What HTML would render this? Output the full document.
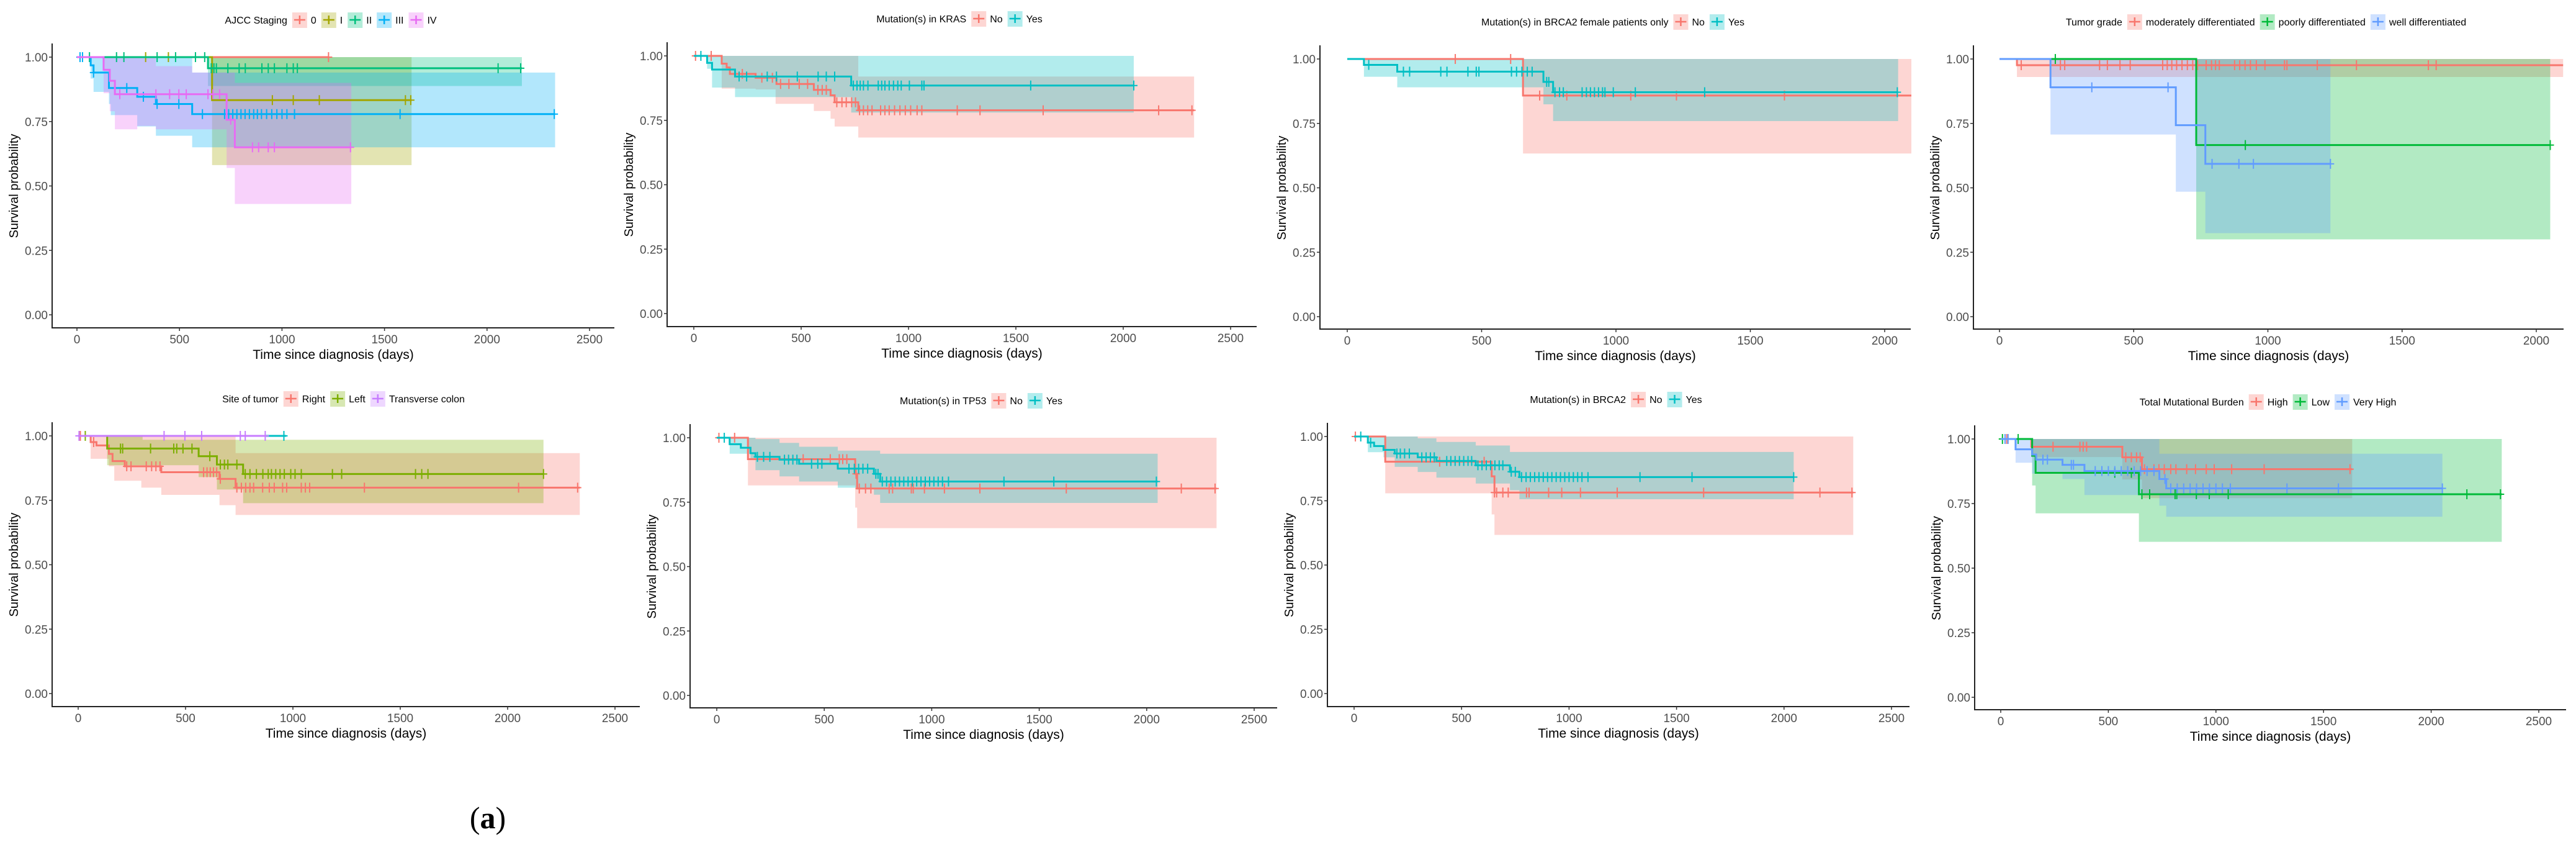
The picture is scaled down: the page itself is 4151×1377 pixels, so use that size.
<!DOCTYPE html>
<html><head><meta charset="utf-8">
<style>
html,body{margin:0;padding:0;background:#fff;}
svg text{font-family:"Liberation Sans Narrow","Liberation Sans",sans-serif;}
</style></head>
<body>
<svg id="root" width="4151" height="1372" viewBox="0 0 4151 1372" xmlns="http://www.w3.org/2000/svg">
<rect width="4151" height="1372" fill="#fff"/>
<text x="786" y="1334" text-anchor="middle" font-size="50" style="font-family:'Liberation Serif',serif">(<tspan font-weight="bold">a</tspan>)</text>
</svg>
<script>
// ---------- data ----------
const ajcc0_steps=[[0,1]]; const ajcc0_end=1227; const ajcc0_cens=[1227]; const ajcc0_lo=[[0,1]]; const ajcc0_hi=[[0,1]];
const ajccI_steps=[[0,1],[659,0.833]]; const ajccI_end=1632; const ajccI_cens=[335,446,953,1055,1182,1602,1628]; const ajccI_lo=[[0,1],[659,0.581]]; const ajccI_hi=[[0,1]];
const ajccII_steps=[[0,1],[639,0.957]]; const ajccII_end=2170; const ajccII_cens=[61,193,229,391,481,578,623,655,668,680,736,791,821,902,933,963,1024,1055,1075,2054,2164]; const ajccII_lo=[[0,1],[639,0.888]]; const ajccII_hi=[[0,1]];
const ajccIII_steps=[[0,1],[67,0.968],[81,0.94],[156,0.88],[294,0.846],[385,0.818],[562,0.779]]; const ajccIII_end=2332; const ajccIII_cens=[15,27,81,243,324,391,497,612,720,740,760,780,800,820,841,862,880,900,925,950,975,1000,1024,1061,1576,2328]; const ajccIII_lo=[[0,1],[67,0.917],[81,0.865],[156,0.818],[165,0.775],[294,0.731],[385,0.695],[562,0.65]]; const ajccIII_hi=[[0,1],[562,0.94]];
const ajccIV_steps=[[0,1],[130,0.951],[160,0.908],[185,0.856],[730,0.757],[770,0.65]]; const ajccIV_end=1338; const ajccIV_cens=[209,385,452,497,533,639,663,696,750,856,886,933,963,1334]; const ajccIV_lo=[[0,1],[130,0.86],[160,0.79],[185,0.72],[294,0.733],[385,0.72],[730,0.57],[770,0.43]]; const ajccIV_hi=[[0,1],[385,0.965],[562,0.94],[770,0.9]];

const krasNo_steps=[[0,1],[130,0.97],[153,0.955],[168,0.93],[288,0.915],[385,0.891],[559,0.868],[637,0.847],[656,0.82],[766,0.789]]; const krasNo_end=2330; const krasNo_cens=[8,81,226,317,366,404,443,491,530,578,598,617,666,690,710,735,753,772,790,810,830,870,890,910,935,960,985,1010,1040,1062,1227,1333,1627,2165,2320]; const krasNo_lo=[[0,1],[130,0.873],[288,0.87],[381,0.814],[559,0.786],[637,0.756],[656,0.726],[766,0.683]]; const krasNo_hi=[[0,1],[766,0.92]];
const krasYes_steps=[[0,1],[62,0.973],[85,0.947],[192,0.92],[733,0.885]]; const krasYes_end=2049; const krasYes_cens=[33,211,246,342,385,482,579,617,656,743,760,775,790,811,859,875,890,910,930,950,966,1004,1062,1072,1569,2049]; const krasYes_lo=[[0,1],[62,0.95],[85,0.877],[192,0.84],[733,0.78]]; const krasYes_hi=[[0,1]];

const bfNo_steps=[[0,1],[654,0.858]]; const bfNo_end=2100; const bfNo_cens=[402,608,716,817,1055,1225,1627]; const bfNo_lo=[[0,1],[654,0.633]]; const bfNo_hi=[[0,1]];
const bfYes_steps=[[0,1],[62,0.977],[186,0.951],[730,0.911],[766,0.871]]; const bfYes_end=2050; const bfYes_cens=[80,209,232,348,371,449,480,490,611,630,650,670,688,742,750,773,790,804,874,890,905,920,935,950,959,990,1072,1330,2047]; const bfYes_lo=[[0,1],[62,0.931],[186,0.89],[730,0.824],[766,0.759]]; const bfYes_hi=[[0,1]];

const grMod_steps=[[0,1],[65,0.976]]; const grMod_end=2100; const grMod_cens=[81,227,243,373,402,449,487,608,625,642,660,680,700,720,738,770,790,805,819,876,895,915,935,957,989,1062,1071,1184,1330,1598,1627]; const grMod_lo=[[0,1],[65,0.93]]; const grMod_hi=[[0,1]];
const grPoor_steps=[[0,1],[733,0.666]]; const grPoor_end=2052; const grPoor_cens=[208,916,2052]; const grPoor_lo=[[0,1],[733,0.3]]; const grPoor_hi=[[0,1]];
const grWell_steps=[[0,1],[190,0.89],[657,0.743],[767,0.593]]; const grWell_end=1233; const grWell_cens=[344,628,792,892,946,1233]; const grWell_lo=[[0,1],[190,0.707],[657,0.485],[767,0.324]]; const grWell_hi=[[0,1]];

const stR_steps=[[0,1],[58,0.976],[85,0.963],[143,0.93],[160,0.902],[217,0.882],[387,0.859],[658,0.833],[733,0.799]]; const stR_end=2336; const stR_cens=[10,72,226,246,317,342,362,381,584,600,615,630,645,662,739,760,780,800,817,859,890,913,952,971,1039,1058,1078,1333,2051,2326]; const stR_lo=[[0,1],[58,0.911],[143,0.882],[168,0.826],[294,0.799],[387,0.771],[658,0.731],[733,0.693]]; const stR_hi=[[0,1],[733,0.933]];
const stL_steps=[[0,1],[135,0.951],[561,0.921],[646,0.889],[768,0.852]]; const stL_end=2167; const stL_cens=[33,197,207,337,445,459,488,530,613,662,681,697,739,778,800,830,860,885,900,920,940,960,990,1010,1039,1184,1227,1571,1600,1629,2167]; const stL_lo=[[0,1],[135,0.886],[561,0.84],[646,0.792],[768,0.739]]; const stL_hi=[[0,1],[300,0.985]];
const stX_steps=[[0,1]]; const stX_end=968; const stX_cens=[958]; const stX_lo=[[0,1]]; const stX_hi=[[0,1]];
const stT_steps=[[0,1]]; const stT_end=875; const stT_cens=[4,400,497,575,755,778,871]; const stT_lo=[[0,1]]; const stT_hi=[[0,1]];

const tpNo_steps=[[0,1],[145,0.917],[644,0.86],[653,0.803]]; const tpNo_end=2325; const tpNo_cens=[10,83,402,528,570,586,605,648,663,692,717,802,818,905,914,966,1059,1224,1626,2161,2318]; const tpNo_lo=[[0,1],[145,0.815],[644,0.729],[653,0.649]]; const tpNo_hi=[[0,1]];
const tpYes_steps=[[0,1],[60,0.975],[112,0.961],[157,0.94],[180,0.926],[292,0.915],[383,0.899],[563,0.88],[731,0.86],[760,0.83]]; const tpYes_end=2051; const tpYes_cens=[35,189,218,247,315,334,354,373,441,470,489,615,640,660,680,702,740,750,770,790,810,830,850,870,890,910,930,950,970,990,1010,1030,1050,1078,1336,1568,2045]; const tpYes_lo=[[0,1],[60,0.938],[157,0.915],[180,0.874],[292,0.85],[383,0.83],[563,0.806],[731,0.779],[760,0.747]]; const tpYes_hi=[[0,1],[180,0.995],[292,0.98],[383,0.965],[563,0.95],[760,0.938]];

const b2No_steps=[[0,1],[145,0.902],[640,0.845],[653,0.782]]; const b2No_end=2322; const b2No_cens=[6,398,605,653,663,692,717,802,814,905,966,1053,1224,1626,2167,2316]; const b2No_lo=[[0,1],[145,0.779],[640,0.697],[653,0.617]]; const b2No_hi=[[0,1]];
const b2Yes_steps=[[0,1],[64,0.976],[93,0.963],[137,0.948],[189,0.934],[296,0.919],[383,0.905],[566,0.888],[725,0.863],[769,0.842]]; const b2Yes_end=2045; const b2Yes_cens=[31,77,199,215,235,257,315,335,355,373,431,450,470,490,510,530,547,576,595,615,635,655,675,692,731,750,779,800,820,840,860,880,900,920,940,960,980,1000,1020,1040,1060,1088,1330,1572,2045]; const b2Yes_lo=[[0,1],[64,0.939],[137,0.919],[189,0.882],[296,0.862],[383,0.84],[566,0.817],[725,0.791],[769,0.756]]; const b2Yes_hi=[[0,1],[296,0.993],[383,0.979],[566,0.965],[725,0.94]];

const tmH_steps=[[0,1],[142,0.97],[565,0.929],[656,0.883]]; const tmH_end=1633; const tmH_cens=[28,243,368,383,399,581,607,631,648,668,712,735,760,790,814,864,905,955,992,1073,1224,1623]; const tmH_lo=[[0,1],[142,0.93],[565,0.843],[656,0.771]]; const tmH_hi=[[0,1]];
const tmL_steps=[[0,1],[146,0.935],[162,0.869],[642,0.786]]; const tmL_end=2328; const tmL_cens=[8,81,530,607,656,692,810,818,909,969,1057,2166,2322]; const tmL_lo=[[0,1],[146,0.82],[162,0.712],[642,0.602]]; const tmL_hi=[[0,1]];
const tmV_steps=[[0,1],[69,0.96],[146,0.94],[165,0.92],[287,0.9],[389,0.876],[737,0.845],[769,0.809]]; const tmV_end=2052; const tmV_cens=[20,34,196,217,328,338,439,470,500,530,560,590,620,650,680,712,763,790,820,850,880,910,940,970,1000,1030,1067,1330,1569,2052]; const tmV_lo=[[0,1],[69,0.908],[146,0.866],[287,0.845],[389,0.783],[737,0.742],[769,0.699]]; const tmV_hi=[[0,1],[737,0.943]];

const yTicks=[0,0.25,0.5,0.75,1];
const yTickLabels=["0.00","0.25","0.50","0.75","1.00"];
const xTicks2500=[0,500,1000,1500,2000,2500];
const xTicks2000=[0,500,1000,1500,2000];

// ---------- layout ----------
const C2=["#F8766D","#00BFC4"], C3=["#F8766D","#00BA38","#619CFF"];
const panels=[
 {name:"ajcc-staging",title:"AJCC Staging",ax:84,x0:124,xr:2500,xw:826,xe:990,y1:92,y0:507,ay:528,ticks:xTicks2500,
  groups:[["0","#F8766D",ajcc0_steps,ajcc0_end,ajcc0_cens,ajcc0_lo,ajcc0_hi],["I","#A3A500",ajccI_steps,ajccI_end,ajccI_cens,ajccI_lo,ajccI_hi],["II","#00BF7D",ajccII_steps,ajccII_end,ajccII_cens,ajccII_lo,ajccII_hi],["III","#00B0F6",ajccIII_steps,ajccIII_end,ajccIII_cens,ajccIII_lo,ajccIII_hi],["IV","#E76BF3",ajccIV_steps,ajccIV_end,ajccIV_cens,ajccIV_lo,ajccIV_hi]]},
 {name:"kras",title:"Mutation(s) in KRAS",ax:1075,x0:1118,xr:2500,xw:865,xe:2025,y1:90,y0:505,ay:526,ticks:xTicks2500,
  groups:[["No",C2[0],krasNo_steps,krasNo_end,krasNo_cens,krasNo_lo,krasNo_hi],["Yes",C2[1],krasYes_steps,krasYes_end,krasYes_cens,krasYes_lo,krasYes_hi]]},
 {name:"brca2-female",title:"Mutation(s) in BRCA2 female patients only",ax:2127,x0:2171,xr:2000,xw:866,xe:3079,y1:95,y0:510,ay:530,ticks:xTicks2000,
  groups:[["No",C2[0],bfNo_steps,bfNo_end,bfNo_cens,bfNo_lo,bfNo_hi],["Yes",C2[1],bfYes_steps,bfYes_end,bfYes_cens,bfYes_lo,bfYes_hi]]},
 {name:"tumor-grade",title:"Tumor grade",ax:3180,x0:3222,xr:2000,xw:865,xe:4131,y1:95,y0:510,ay:530,ticks:xTicks2000,
  groups:[["moderately differentiated",C3[0],grMod_steps,grMod_end,grMod_cens,grMod_lo,grMod_hi],["poorly differentiated",C3[1],grPoor_steps,grPoor_end,grPoor_cens,grPoor_lo,grPoor_hi],["well differentiated",C3[2],grWell_steps,grWell_end,grWell_cens,grWell_lo,grWell_hi]]},
 {name:"tumor-site",title:"Site of tumor",ax:84,x0:126,xr:2500,xw:865,xe:1031,y1:702,y0:1117,ay:1138,ticks:xTicks2500,
  groups:[[null,"#00BFC4",stX_steps,stX_end,stX_cens,stX_lo,stX_hi],["Right","#F8766D",stR_steps,stR_end,stR_cens,stR_lo,stR_hi],["Left","#7CAE00",stL_steps,stL_end,stL_cens,stL_lo,stL_hi],["Transverse colon","#C77CFF",stT_steps,stT_end,stT_cens,stT_lo,stT_hi]]},
 {name:"tp53",title:"Mutation(s) in TP53",ax:1112,x0:1155,xr:2500,xw:866,xe:2058,y1:705,y0:1120,ay:1140,ticks:xTicks2500,
  groups:[["No",C2[0],tpNo_steps,tpNo_end,tpNo_cens,tpNo_lo,tpNo_hi],["Yes",C2[1],tpYes_steps,tpYes_end,tpYes_cens,tpYes_lo,tpYes_hi]]},
 {name:"brca2",title:"Mutation(s) in BRCA2",ax:2139,x0:2182,xr:2500,xw:866,xe:3077,y1:703,y0:1117,ay:1138,ticks:xTicks2500,
  groups:[["No",C2[0],b2No_steps,b2No_end,b2No_cens,b2No_lo,b2No_hi],["Yes",C2[1],b2Yes_steps,b2Yes_end,b2Yes_cens,b2Yes_lo,b2Yes_hi]]},
 {name:"tmb",title:"Total Mutational Burden",ax:3182,x0:3224,xr:2500,xw:867,xe:4135,y1:707,y0:1123,ay:1143,ticks:xTicks2500,
  groups:[["High",C3[0],tmH_steps,tmH_end,tmH_cens,tmH_lo,tmH_hi],["Low",C3[1],tmL_steps,tmL_end,tmL_cens,tmL_lo,tmL_hi],["Very High",C3[2],tmV_steps,tmV_end,tmV_cens,tmV_lo,tmV_hi]]}
];

const NS="http://www.w3.org/2000/svg";
const root=document.getElementById('root');
function mk(tag,attrs,parent){const e=document.createElementNS(NS,tag);for(const k in attrs)e.setAttribute(k,attrs[k]);(parent||root).appendChild(e);return e;}
function valAt(arr,t){let v=arr[0][1];for(const p of arr){if(p[0]<=t)v=p[1];}return v;}

panels.forEach((P,pi)=>{
  const g=mk('g',{});
  
  
  const X=t=>P.x0+t*P.xw/P.xr;
  const Y=s=>P.y0-(P.y0-P.y1)*s;
  const cid='clip'+pi;
  const cp=mk('clipPath',{id:cid},g);
  mk('rect',{x:P.ax+1,y:P.y1-30,width:P.xe-P.ax,height:P.ay-P.y1+30},cp);
  const plot=mk('g',{'clip-path':'url(#'+cid+')'},g);
  
  
  // bands
  P.groups.forEach(G=>{
    const [lab,col,steps,end,cens,lo,hi]=G;
    const ts=[...new Set([...lo.map(p=>p[0]),...hi.map(p=>p[0])])].filter(t=>t<end).sort((a,b)=>a-b);
    let up='',dn=[];
    ts.forEach((t,i)=>{const b=i<ts.length-1?ts[i+1]:end;const h=valAt(hi,t),l=valAt(lo,t);
      up+=(i?'L':'M')+X(t)+' '+Y(h)+'L'+X(b)+' '+Y(h);
      dn.unshift('L'+X(b)+' '+Y(l)+'L'+X(t)+' '+Y(l));});
    const band=mk('path',{d:up+dn.join('')+'Z',fill:col,'fill-opacity':0.3,stroke:'none'},plot);
    
    
  });
  // lines & censors
  P.groups.forEach(G=>{
    const [lab,col,steps,end,cens]=G;
    let d='M'+X(steps[0][0])+' '+Y(steps[0][1]);
    for(let i=1;i<steps.length;i++){d+='H'+X(steps[i][0])+'V'+Y(steps[i][1]);}
    d+='H'+X(end);
    const ln=mk('path',{d:d,fill:'none',stroke:col,'stroke-width':3},plot);
    
    
    let cd='';
    cens.forEach(t=>{const x=X(t),y=Y(valAt(steps,t));cd+='M'+(x-6)+' '+y+'H'+(x+6)+'M'+x+' '+(y-8)+'V'+(y+8);});
    const cm=mk('path',{d:cd,fill:'none',stroke:col,'stroke-width':2},plot);
    
    
  });
  // axes
  const axs=mk('path',{d:'M'+P.ax+' '+(P.y1-22)+'V'+P.ay+'H'+P.xe,fill:'none',stroke:'#222','stroke-width':2},g);
  
  
  yTicks.forEach((v,i)=>{
    mk('line',{x1:P.ax-5,x2:P.ax,y1:Y(v),y2:Y(v),stroke:'#333','stroke-width':1.5},g);
    const t=mk('text',{x:P.ax-7,y:Y(v)+7,'text-anchor':'end','font-size':19,fill:'#4d4d4d'},g);
    t.textContent=yTickLabels[i];
    
    
  });
  P.ticks.forEach(v=>{
    mk('line',{x1:X(v),x2:X(v),y1:P.ay,y2:P.ay+5,stroke:'#333','stroke-width':1.5},g);
    const t=mk('text',{x:X(v),y:P.ay+25,'text-anchor':'middle','font-size':19,fill:'#4d4d4d'},g);
    t.textContent=String(v);
    
    
  });
  const mid=(P.ax+P.xe)/2;
  const xt=mk('text',{x:mid,y:P.ay+50,'text-anchor':'middle','font-size':21,fill:'#000'},g);
  xt.textContent='Time since diagnosis (days)';
  
  
  const yc=(P.y1+P.y0)/2, yx=P.ax-55;
  const yt=mk('text',{x:yx,y:yc,'text-anchor':'middle','font-size':20,fill:'#000',transform:'rotate(-90 '+yx+' '+yc+')',style:"font-family:'Liberation Sans',sans-serif"},g);
  yt.textContent='Survival probability';
  
  
  // legend
  const lg=mk('g',{},g);
  
  
  const ly=P.y1-60;
  let cx=0;
  const tt=mk('text',{x:0,y:ly+6,'font-size':16,fill:'#000'},lg);
  tt.textContent=P.title;
  
  
  cx=tt.getComputedTextLength()+8;
  P.groups.forEach(G=>{
    const [lab,col]=G; if(!lab)return;
    const e=mk('g',{},lg);
    
    
    mk('rect',{x:cx,y:ly-12,width:24,height:25,fill:col,'fill-opacity':0.3},e);
    mk('path',{d:'M'+(cx+3)+' '+ly+'H'+(cx+21)+'M'+(cx+12)+' '+(ly-7)+'V'+(ly+7),stroke:col,'stroke-width':2.5,fill:'none'},e);
    const lt=mk('text',{x:cx+30,y:ly+6,'font-size':16,fill:'#000'},e);
    lt.textContent=lab;
    
    
    cx+=30+lt.getComputedTextLength()+8;
  });
  lg.setAttribute('transform','translate('+(mid-cx/2)+',0)');
});
</script>
</body></html>
